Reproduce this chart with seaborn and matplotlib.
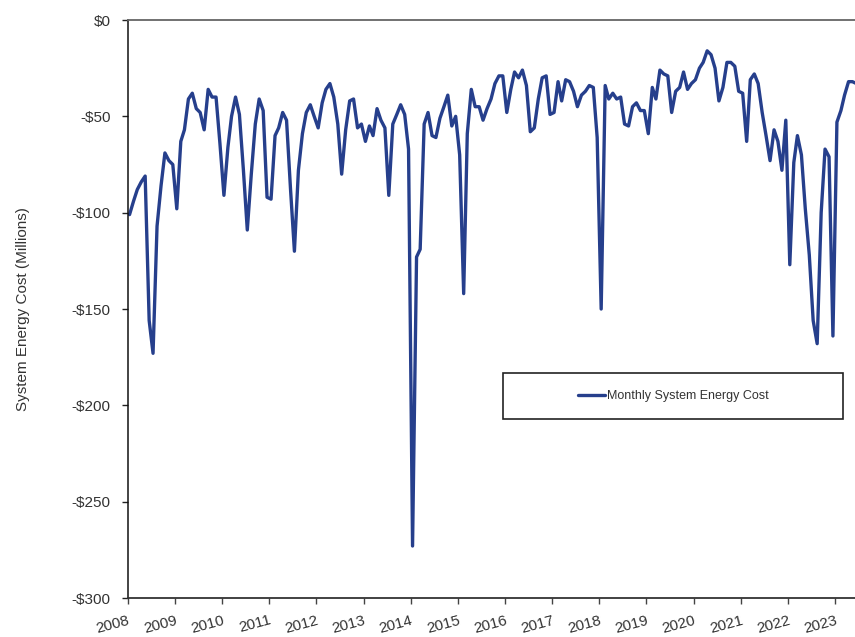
import pandas as pd
import numpy as np
import matplotlib
matplotlib.use("Agg")
import matplotlib.pyplot as plt
import matplotlib.dates as mdates
from matplotlib.patches import Rectangle
from matplotlib.ticker import FuncFormatter
import seaborn as sns

# monthly system energy cost, $ millions, Jan 2008 - Jun 2023
cost_2008 = [-101, -94, -88, -84, -81, -156, -173, -107, -86, -69, -73, -75]
cost_2009 = [-98, -63, -57, -41, -38, -46, -48, -57, -36, -40, -40, -64]
cost_2010 = [-91, -66, -50, -40, -49, -78, -109, -80, -54, -41, -47, -92]
cost_2011 = [-93, -60, -56, -48, -52, -88, -120, -78, -59, -48, -44, -50]
cost_2012 = [-56, -43, -36, -33, -40, -54, -80, -57, -42, -41, -56, -54]
cost_2013 = [-63, -55, -60, -46, -52, -56, -91, -54, -49, -44, -49, -67]
cost_2014 = [-273, -123, -119, -54, -48, -60, -61, -51, -45, -39, -55, -50]
cost_2015 = [-70, -142, -59, -36, -45, -45, -52, -46, -41, -33, -29, -29]
cost_2016 = [-48, -36, -27, -30, -26, -34, -58, -56, -41, -30, -29, -49]
cost_2017 = [-48, -32, -42, -31, -32, -37, -45, -39, -37, -34, -35, -61]
cost_2018 = [-150, -34, -41, -38, -41, -40, -54, -55, -45, -43, -47, -47]
cost_2019 = [-59, -35, -41, -26, -28, -29, -48, -37, -35, -27, -36, -33]
cost_2020 = [-31, -25, -22, -16, -18, -25, -42, -35, -22, -22, -24, -37]
cost_2021 = [-38, -63, -31, -28, -33, -48, -60, -73, -57, -63, -78, -52]
cost_2022 = [-127, -74, -60, -70, -98, -122, -156, -168, -100, -67, -71, -164]
cost_2023 = [-53, -47, -39, -32, -32, -33]

cost = (cost_2008 + cost_2009 + cost_2010 + cost_2011 + cost_2012 + cost_2013
        + cost_2014 + cost_2015 + cost_2016 + cost_2017 + cost_2018 + cost_2019
        + cost_2020 + cost_2021 + cost_2022 + cost_2023)

months = pd.date_range("2008-01-01", periods=len(cost), freq="MS") + pd.Timedelta(days=14)
df = pd.DataFrame({"month": months, "cost": cost})

sns.set_style("ticks")
plt.rcParams['font.family'] = ['Liberation Sans', 'DejaVu Sans']
txt = "#333333"

fig = plt.figure(figsize=(8.55, 6.37), dpi=100)
ax = fig.add_axes([0.1494, 0.0612, 0.8506, 0.9074])

sns.lineplot(data=df, x="month", y="cost", ax=ax, color="#263f8c", linewidth=2.4,
             label="Monthly System Energy Cost")

ax.set_ylim(-300, 0)
ax.set_yticks(np.arange(-300, 1, 50))
ax.yaxis.set_major_formatter(FuncFormatter(lambda v, p: "$0" if v == 0 else "-$%d" % abs(v)))
ax.set_xlim(pd.Timestamp("2008-01-01"), pd.Timestamp("2023-06-04"))
ax.xaxis.set_major_locator(mdates.YearLocator())
ax.xaxis.set_major_formatter(mdates.DateFormatter("%Y"))

ax.set_xlabel("")
ax.set_ylabel("System Energy Cost (Millions)", fontsize=11, color=txt, labelpad=30)

ax.tick_params(axis="y", labelsize=11, labelcolor=txt, length=4.3, width=1, pad=8, color="#222222")
ax.tick_params(axis="x", labelsize=11, labelcolor=txt, length=4, width=1, pad=7, color="#444444")
for lab in ax.get_xticklabels():
    lab.set_rotation(15)
    lab.set_ha("right")
    lab.set_rotation_mode("anchor")

ax.spines["right"].set_visible(False)
ax.spines["top"].set_color("#666666")
ax.spines["top"].set_linewidth(1.3)
ax.spines["left"].set_color("#111111")
ax.spines["left"].set_linewidth(1.1)
ax.spines["bottom"].set_color("#333333")
ax.spines["bottom"].set_linewidth(1.3)

leg = ax.legend(loc="center", bbox_to_anchor=(0.7505, 0.349), frameon=False, fontsize=9,
                handlelength=2.2, handletextpad=0.15)
for t in leg.get_texts():
    t.set_color(txt)
ax.add_patch(Rectangle((0.5156, 0.3092), 0.4684, 0.0796, transform=ax.transAxes,
                       fill=False, edgecolor="#222222", linewidth=1.2, zorder=5))

fig.savefig("out.png", dpi=100)
